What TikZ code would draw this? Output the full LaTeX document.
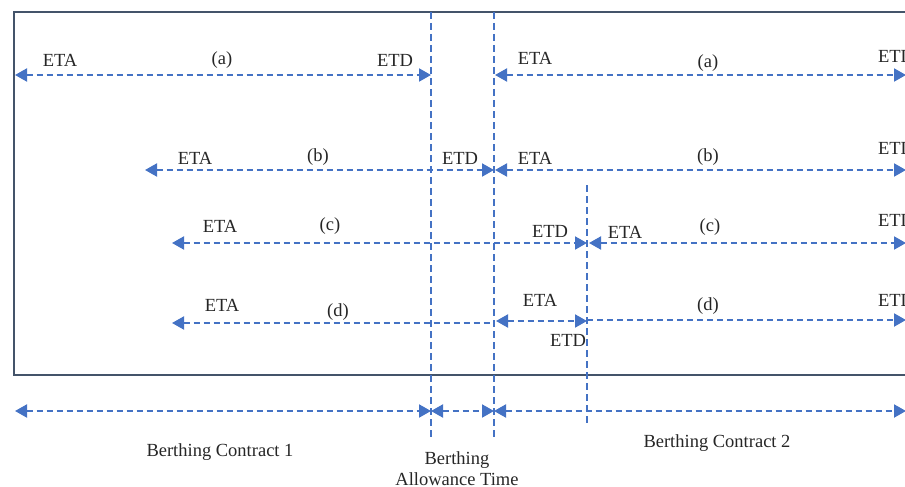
\documentclass[tikz,border=0pt]{standalone}
\usepackage{fontspec}
\setmainfont{Liberation Serif}
\usepackage{tikz}
\usetikzlibrary{arrows.meta,positioning}
\definecolor{lineblue}{RGB}{68, 114, 196}
\definecolor{framegray}{RGB}{68, 84, 106}

\begin{document}
\begin{tikzpicture}[x=1pt, y=-1pt,
        lbl/.style={inner sep=0pt, font=\fontsize{18.5}{20}\selectfont, text=black!85},
        sublbl/.style={inner sep=0pt, font=\fontsize{18.5}{21}\selectfont, text=black!85, align=center},
        dline/.style={lineblue, line width=2pt, dash pattern=on 6pt off 4pt},
        both/.style={dline, {Triangle[length=12pt,width=13pt]}-{Triangle[length=12pt,width=13pt]}},
        toright/.style={dline, -{Triangle[length=12pt,width=13pt]}},
        toleft/.style={dline, {Triangle[length=12pt,width=13pt]}-},
        vline/.style={lineblue, line width=1.3pt, dash pattern=on 7pt off 4pt},
        frame/.style={framegray, line width=2pt}
    ]
        \useasboundingbox (0,0) rectangle (905,487);
        \clip (0,0) rectangle (905,487);
        \draw[frame] (14,12) rectangle (960,375);
        % time borders
        \coordinate (v1top) at (431,12);
        \coordinate (v1bot) at (431,437);
        \coordinate (v2top) at (494,12);
        \coordinate (v2bot) at (494,437);
        \coordinate (v3top) at (587,185);
        \coordinate (v3bot) at (587,425);
        \draw[vline] (v1top) -- (v1bot);
        \draw[vline] (v2top) -- (v2bot);
        \draw[vline] (v3top) -- (v3bot);
        % row (a)
        \coordinate (a1s) at (15,75);
        \coordinate (a1e) at (431,75);
        \coordinate (a2s) at (495,75);
        \coordinate (a2e) at (906,75);
        \draw[both] (a1s) -- (a1e);
        \draw[both] (a2s) -- (a2e);
        \node[lbl] (etaA1) at (60,60) {ETA};
        \node[lbl] (tagA1) at (222,60) {(a)};
        \node[lbl] (etdA1) at (395,60) {ETD};
        \node[lbl] (etaA2) at (535,58) {ETA};
        \node[lbl] (tagA2) at (708,63) {(a)};
        \node[lbl] (etdA2) at (896,56) {ETD};
        % row (b)
        \coordinate (b1s) at (145,170);
        \coordinate (b1e) at (494,170);
        \coordinate (b2s) at (495,170);
        \coordinate (b2e) at (906,170);
        \draw[both] (b1s) -- (b1e);
        \draw[both] (b2s) -- (b2e);
        \node[lbl] (etaB1) at (195,158) {ETA};
        \node[lbl] (tagB1) at (318,157) {(b)};
        \node[lbl] (etdB1) at (460,158) {ETD};
        \node[lbl] (etaB2) at (535,158) {ETA};
        \node[lbl] (tagB2) at (708,157) {(b)};
        \node[lbl] (etdB2) at (896,148) {ETD};
        % row (c)
        \coordinate (c1s) at (172,243);
        \coordinate (c1e) at (587,243);
        \coordinate (c2s) at (589,243);
        \coordinate (c2e) at (906,243);
        \draw[both] (c1s) -- (c1e);
        \draw[both] (c2s) -- (c2e);
        \node[lbl] (etaC1) at (220,226) {ETA};
        \node[lbl] (tagC1) at (330,226) {(c)};
        \node[lbl] (etdC1) at (550,231) {ETD};
        \node[lbl] (etaC2) at (625,232) {ETA};
        \node[lbl] (tagC2) at (710,227) {(c)};
        \node[lbl] (etdC2) at (896,220) {ETD};
        % row (d)
        \coordinate (d1s) at (172,323);
        \coordinate (d1e) at (494,323);
        \coordinate (d2s) at (496,321);
        \coordinate (d2e) at (587,321);
        \coordinate (d3s) at (587,320);
        \coordinate (d3e) at (906,320);
        \draw[toleft] (d1s) -- (d1e);
        \draw[both] (d2s) -- (d2e);
        \draw[toright] (d3s) -- (d3e);
        \node[lbl] (etaD1) at (222,305) {ETA};
        \node[lbl] (tagD1) at (338,312) {(d)};
        \node[lbl] (etaD2) at (540,300) {ETA};
        \node[lbl] (etdD2) at (568,340) {ETD};
        \node[lbl] (tagD2) at (708,306) {(d)};
        \node[lbl] (etdD3) at (896,300) {ETD};
        % contracts
        \coordinate (k1s) at (15,411);
        \coordinate (k1e) at (431,411);
        \coordinate (k2e) at (494,411);
        \coordinate (k3e) at (906,411);
        \draw[both] (k1s) -- (k1e);
        \draw[both] (k1e) -- (k2e);
        \draw[both] (k2e) -- (k3e);
        \node[sublbl] (contract1) at (220,452) {Berthing Contract 1};
        \node[sublbl] (allowance) at (457,469) {Berthing\\Allowance Time};
        \node[sublbl] (contract2) at (717,443) {Berthing Contract 2};
    \end{tikzpicture}
\end{document}
